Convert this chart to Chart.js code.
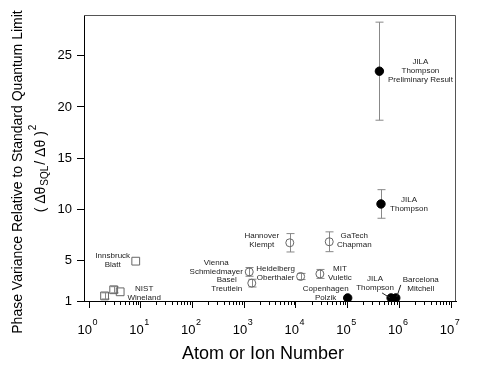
<!DOCTYPE html>
<html>
<head>
<meta charset="utf-8">
<script src="https://cdn.jsdelivr.net/npm/chart.js@4.4.0/dist/chart.umd.min.js"></script>
<style>
body { margin: 0; background: #fff; }
</style>
</head>
<body>
<canvas id="myChart" width="485" height="373"></canvas>
<script>
var fontFam = '"Liberation Sans", Arial, sans-serif';

// filled circles (atoms, cavity experiments)
var solidN = [4.1e5, 4.4e5, 1.0e5, 6.9e5, 8.5e5];
var solidV = [23.5, 10.5, 1.3, 1.3, 1.3];
var solidErr = [4.8, 1.4, 0, 0, 0];
var solidNames = ['JILA\nThompson\nPreliminary Result', 'JILA\nThompson', 'Copenhagen\nPolzik', 'JILA\nThompson', 'Barcelona\nMitchell'];

// open circles
var ringN = [4.4e4, 7.6e3, 2.9e4, 1.23e4, 1.25e3, 1.4e3];
var ringV = [6.8, 6.7, 3.65, 3.4, 3.85, 2.75];
var ringErr = [0.97, 0.9, 0.44, 0.3, 0.43, 0.38];
var ringNames = ['GaTech\nChapman', 'Hannover\nKlempt', 'MIT\nVuletic', 'Heidelberg\nOberthaler', 'Vienna\nSchmiedmayer', 'Basel\nTreutlein'];

// open squares (ions)
var squareN = [8, 2, 3, 4];
var squareV = [4.9, 1.5, 2.1, 1.9];
var squareErr = [0, 0.3, 0.3, 0];
var squareNames = ['Innsbruck\nBlatt', '', '', 'NIST\nWineland'];

var yTicks = [1, 5, 10, 15, 20, 25];
var xTickExp = [0, 1, 2, 3, 4, 5, 6, 7];
var xTitle = 'Atom or Ion Number';
var yTitle = 'Phase Variance Relative to Standard Quantum Limit';

// label placement (pixel offsets of first text line from the point)
var solidLabelPos = [[41, -9], [28, -4.5], [-22, -9], [-16, -19], [25, -18]];
var ringLabelPos = [[25, -6], [-28, -6.5], [20, -5], [-25, -7.5], [-33, -9.5], [-25, -3]];
var squareLabelPos = [[-23, -5], null, null, [24, -3]];
var solidLeaders = { 3: [[-9, -5], [-1, 0]], 4: [[5, -13], [1, -1]] };

function pts(xs, ys) {
	return xs.map(function (n, i) { return { x: n, y: ys[i] }; });
}

var groups = [
	{ n: solidN, v: solidV, err: solidErr, names: solidNames, pos: solidLabelPos, leaders: solidLeaders },
	{ n: ringN, v: ringV, err: ringErr, names: ringNames, pos: ringLabelPos, leaders: {} },
	{ n: squareN, v: squareV, err: squareErr, names: squareNames, pos: squareLabelPos, leaders: {} }
];

var decor = {
	id: 'decor',
	beforeDatasetsDraw: function (chart) {
		var ctx = chart.ctx, xs = chart.scales.x, ys = chart.scales.y;
		ctx.save();
		ctx.strokeStyle = '#888';
		ctx.lineWidth = 1;
		groups.forEach(function (g) {
			g.n.forEach(function (n, i) {
				if (!g.err[i]) return;
				var px = Math.round(xs.getPixelForValue(n)) + 0.5;
				var y1 = ys.getPixelForValue(g.v[i] + g.err[i]);
				var y2 = ys.getPixelForValue(g.v[i] - g.err[i]);
				ctx.beginPath();
				ctx.moveTo(px, y1); ctx.lineTo(px, y2);
				ctx.moveTo(px - 4, y1); ctx.lineTo(px + 4, y1);
				ctx.moveTo(px - 4, y2); ctx.lineTo(px + 4, y2);
				ctx.stroke();
			});
		});
		ctx.restore();
	},
	afterDraw: function (chart) {
		var ctx = chart.ctx, xs = chart.scales.x, ys = chart.scales.y, a = chart.chartArea;
		ctx.save();

		// top and right frame
		ctx.strokeStyle = '#555';
		ctx.lineWidth = 1;
		ctx.beginPath();
		ctx.moveTo(a.left, a.top + 0.5);
		ctx.lineTo(a.right - 0.5, a.top + 0.5);
		ctx.lineTo(a.right - 0.5, a.bottom);
		ctx.stroke();

		// minor ticks on x
		ctx.strokeStyle = '#000';
		ctx.beginPath();
		xs.ticks.forEach(function (t) {
			if (t.major) return;
			var px = Math.round(xs.getPixelForValue(t.value)) + 0.5;
			ctx.moveTo(px, a.bottom);
			ctx.lineTo(px, a.bottom + 4);
		});
		ctx.stroke();

		// x tick labels 10^n
		ctx.fillStyle = '#000';
		ctx.textBaseline = 'alphabetic';
		xTickExp.forEach(function (e) {
			var px = xs.getPixelForValue(Math.pow(10, e));
			ctx.font = '13px ' + fontFam;
			var w = ctx.measureText('10').width;
			ctx.textAlign = 'left';
			ctx.fillText('10', px - w + 3, 334);
			ctx.font = '9px ' + fontFam;
			ctx.fillText(String(e), px + 3.5, 325);
		});

		// x title
		ctx.font = '18px ' + fontFam;
		ctx.textAlign = 'center';
		ctx.textBaseline = 'middle';
		ctx.fillText(xTitle, (a.left + a.right) / 2 - 7, 354);

		// y title, two lines
		ctx.save();
		ctx.translate(18, 172);
		ctx.rotate(-Math.PI / 2);
		ctx.font = '14px ' + fontFam;
		ctx.fillText(yTitle, 0, 0);
		ctx.restore();

		ctx.save();
		ctx.translate(41, 170);
		ctx.rotate(-Math.PI / 2);
		var parts = [
			{ t: '( \u0394\u03b8', f: 14, dy: 0 },
			{ t: 'SQL', f: 10, dy: 4 },
			{ t: '/ \u0394\u03b8 )', f: 14, dy: 0 },
			{ t: '2', f: 10, dy: -8 }
		];
		var total = 0;
		parts.forEach(function (p) { ctx.font = p.f + 'px ' + fontFam; p.w = ctx.measureText(p.t).width; total += p.w; });
		var cx = -total / 2;
		ctx.textAlign = 'left';
		parts.forEach(function (p) {
			ctx.font = p.f + 'px ' + fontFam;
			ctx.fillText(p.t, cx, p.dy);
			cx += p.w + 1;
		});
		ctx.restore();

		// point labels
		ctx.font = '8px ' + fontFam;
		ctx.fillStyle = '#222';
		ctx.textAlign = 'center';
		ctx.textBaseline = 'middle';
		groups.forEach(function (g) {
			g.n.forEach(function (n, i) {
				var px = xs.getPixelForValue(n), py = ys.getPixelForValue(g.v[i]);
				if (g.pos[i]) {
					g.names[i].split('\n').forEach(function (line, k) {
						ctx.fillText(line, px + g.pos[i][0], py + g.pos[i][1] + k * 9);
					});
				}
				var ld = g.leaders[i];
				if (ld) {
					ctx.strokeStyle = '#222';
					ctx.beginPath();
					ctx.moveTo(px + ld[0][0], py + ld[0][1]);
					ctx.lineTo(px + ld[1][0], py + ld[1][1]);
					ctx.stroke();
				}
			});
		});
		ctx.restore();
	}
};

var ctx = document.getElementById('myChart').getContext('2d');
var myChart = new Chart(ctx, {
	type: 'scatter',
	data: {
		datasets: [
			{ data: pts(solidN, solidV), pointStyle: 'circle', pointRadius: 4.2, backgroundColor: '#000', borderColor: '#000', borderWidth: 1 },
			{ data: pts(ringN, ringV), pointStyle: 'circle', pointRadius: 4, backgroundColor: 'rgba(0,0,0,0)', borderColor: '#666', borderWidth: 1 },
			{ data: pts(squareN, squareV), pointStyle: 'rect', pointRadius: 5.5, backgroundColor: 'rgba(0,0,0,0)', borderColor: '#666', borderWidth: 1 }
		]
	},
	options: {
		responsive: false,
		animation: false,
		layout: { padding: { top: 15, right: 29, left: 0, bottom: 0 } },
		plugins: { legend: { display: false }, tooltip: { enabled: false } },
		scales: {
			x: {
				type: 'logarithmic',
				min: 0.8,
				max: 1.24e7,
				afterBuildTicks: function (s) {
					var t = [];
					xTickExp.forEach(function (e) {
						for (var m = 1; m <= 9; m++) {
							if (e === 7 && m > 1) break;
							t.push({ value: m * Math.pow(10, e), major: m === 1 });
						}
					});
					s.ticks = t;
				},
				afterFit: function (s) { s.height = 72; },
				ticks: { display: false },
				grid: {
					drawOnChartArea: false,
					tickLength: 7,
					tickColor: function (c) { return c.tick && c.tick.major ? '#000' : 'rgba(0,0,0,0)'; }
				},
				border: { color: '#000', width: 1 }
			},
			y: {
				min: 1,
				max: 29,
				afterBuildTicks: function (s) {
					s.ticks = yTicks.map(function (v) { return { value: v }; });
				},
				afterFit: function (s) { s.width = 84; },
				ticks: { autoSkip: false, color: '#000', padding: 5, font: { family: fontFam, size: 13 } },
				grid: { drawOnChartArea: false, tickLength: 7, tickColor: '#000' },
				border: { color: '#000', width: 1 }
			}
		}
	},
	plugins: [decor]
});
</script>
</body>
</html>
